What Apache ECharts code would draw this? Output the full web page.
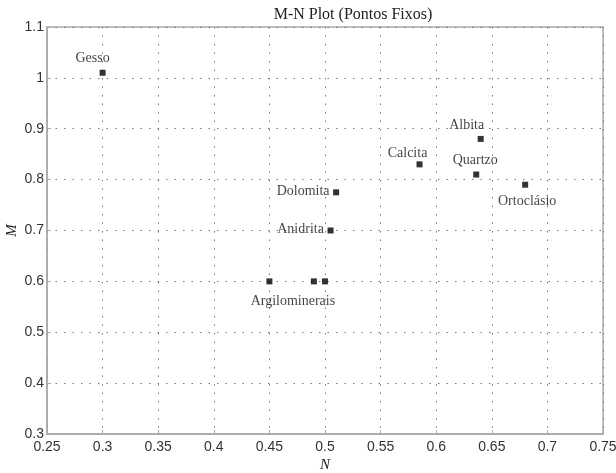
<!DOCTYPE html>
<html>
<head>
<meta charset="utf-8">
<script src="https://cdn.jsdelivr.net/npm/echarts@6/dist/echarts.min.js"></script>
<style>
html,body{margin:0;padding:0;background:#fff;}
#chart{width:616px;height:473px;}
</style>
</head>
<body>
<div id="chart"></div>
<script>
// Data
var names = ['Gesso','Albita','Calcita','Quartzo','Ortoclásio','Dolomita','Anidrita','Argilominerais','Argilominerais','Argilominerais'];
var nValues = [0.30, 0.64, 0.585, 0.636, 0.68, 0.51, 0.505, 0.45, 0.49, 0.50];
var mValues = [1.01, 0.88, 0.83, 0.81, 0.79, 0.775, 0.70, 0.60, 0.60, 0.60];
var showLabel = [true, true, true, true, true, true, true, false, true, false];
var xTicks = ['0.25','0.3','0.35','0.4','0.45','0.5','0.55','0.6','0.65','0.7','0.75'];
var yTicks = ['0.3','0.4','0.5','0.6','0.7','0.8','0.9','1','1.1'];
var titleText = 'M-N Plot (Pontos Fixos)';

// Label placement (style only): offset of label centre from marker centre
var labelOffset = {
  'Gesso': [-10,-14],
  'Albita': [-14,-14],
  'Calcita': [-12,-11],
  'Quartzo': [-1,-14],
  'Ortoclásio': [2,17],
  'Dolomita': [-33,-1],
  'Anidrita': [-30,-1],
  'Argilominerais': [-21,20]
};
var SYM = 6;

var data = names.map(function(n,i){
  var o = labelOffset[n];
  return {name:n, value:[nValues[i], mValues[i]], label: {
    show: showLabel[i], formatter: n,
    position: [SYM/2 + o[0], SYM/2 + o[1]], align:'center', verticalAlign:'middle',
    fontFamily: '"Liberation Serif","Times New Roman",serif', fontSize: 14, color:'#111'}};
});

var chart = echarts.init(document.getElementById('chart'), null, {renderer:'canvas'});
var axisFont = {fontFamily:'"Liberation Sans",Arial,sans-serif', fontSize:14, color:'#333'};
chart.setOption({
  animation:false,
  backgroundColor:'#fff',
  title:{text:titleText, left:348, top:2, textAlign:'center',
    textStyle:{fontFamily:'"Liberation Serif","Times New Roman",serif', fontSize:16, fontWeight:'normal', color:'#222'}},
  grid:{left:47, right:13, top:27, bottom:39, show:true, borderColor:'#aaa', borderWidth:1.5,
    containLabel:false, outerBoundsMode:'none'},
  xAxis:{type:'value', min:0.25, max:0.75, interval:0.05,
    name:'N', nameLocation:'middle', nameGap:31, nameMoveOverlap:false,
    nameTextStyle:{fontFamily:'"Liberation Serif",serif', fontStyle:'italic', fontSize:15, color:'#222', verticalAlign:'middle'},
    axisLine:{show:true, lineStyle:{color:'#aaa', width:1.5}},
    axisTick:{show:true, inside:true, length:4, lineStyle:{color:'#aaa'}},
    axisLabel:Object.assign({margin:6, formatter:function(v){ var i=Math.round((v-0.25)/0.05); return xTicks[i]; }}, axisFont),
    splitLine:{show:true, lineStyle:{color:'#777', type:[1.5,7], width:1}}
  },
  yAxis:{type:'value', min:0.3, max:1.1, interval:0.1,
    name:'M', nameLocation:'middle', nameGap:35, nameRotate:90, nameMoveOverlap:false,
    nameTextStyle:{fontFamily:'"Liberation Serif",serif', fontStyle:'italic', fontSize:15, color:'#222', verticalAlign:'middle'},
    axisLine:{show:true, lineStyle:{color:'#aaa', width:1.5}},
    axisTick:{show:true, inside:true, length:4, lineStyle:{color:'#aaa'}},
    axisLabel:Object.assign({margin:3, formatter:function(v){ var i=Math.round((v-0.3)/0.1); return yTicks[i]; }}, axisFont),
    splitLine:{show:true, lineStyle:{color:'#777', type:[1.5,7], width:1}}
  },
  series:[{type:'scatter', symbol:'rect', symbolSize:SYM, itemStyle:{color:'#000'},
    data:data, labelLayout:{hideOverlap:false}}]
});
</script>
</body>
</html>
